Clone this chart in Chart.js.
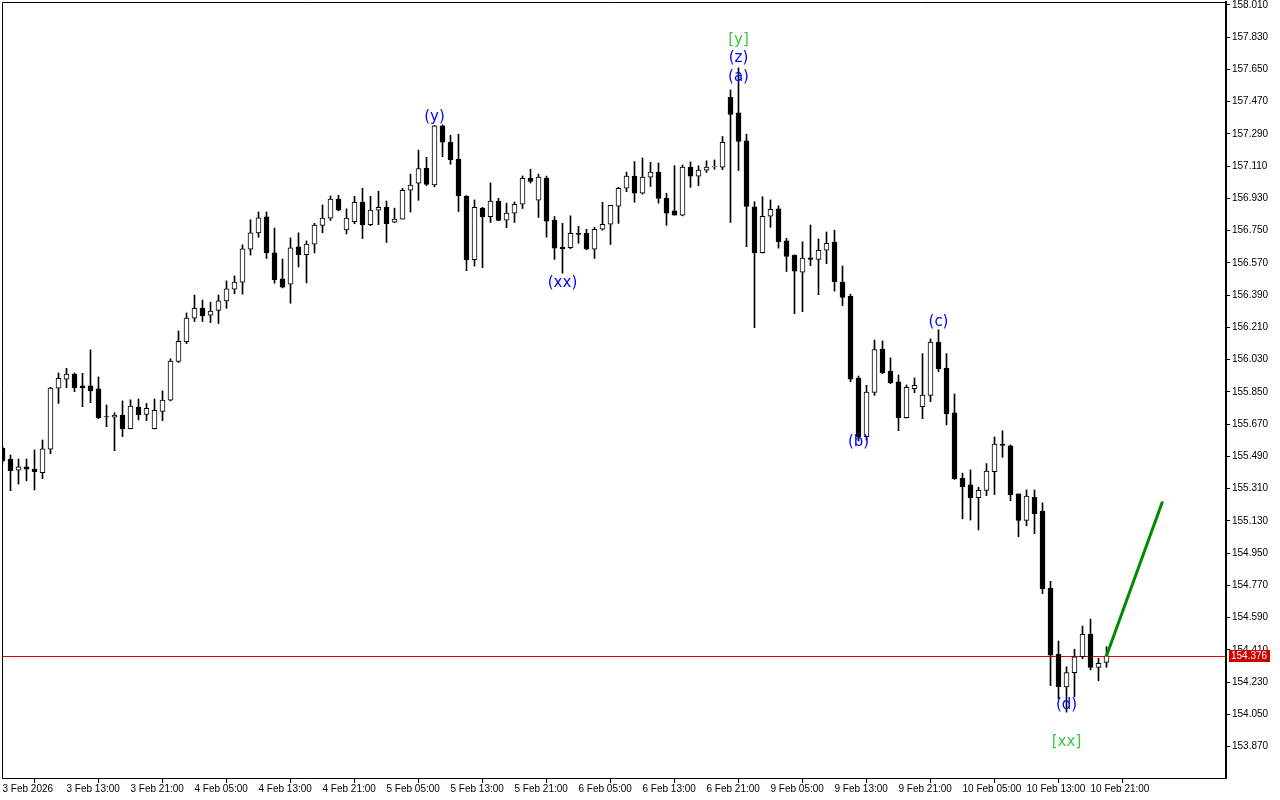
<!DOCTYPE html>
<html>
<head>
<meta charset="utf-8">
<script src="https://cdn.jsdelivr.net/npm/chart.js@4.4.1/dist/chart.umd.min.js"></script>
<style>
  body { margin: 0; background: #fff; }
  canvas { display: block; }
</style>
</head>
<body>
<canvas id="chart" width="1280" height="800"></canvas>
<script>
// H1 candles, 3 Feb 05:00 .. 10 Feb 23:00
const opens = [
155.534,155.475,155.412,155.431,155.419,155.399,155.529,155.870,155.920,155.949,
155.883,155.883,155.866,155.712,155.708,155.720,155.644,155.765,155.724,155.644,
155.741,155.803,156.019,156.130,156.261,156.316,156.277,156.304,156.357,156.423,
156.462,156.646,156.737,156.826,156.625,156.480,156.451,156.659,156.616,156.674,
156.778,156.819,156.925,156.753,156.800,156.908,156.783,156.864,156.880,156.797,
156.814,156.975,157.015,157.098,157.005,157.334,157.243,157.148,156.941,156.587,
156.876,156.828,156.915,156.808,156.847,156.897,157.042,156.919,157.042,156.808,
156.657,156.655,156.735,156.735,156.646,156.757,156.785,156.886,156.986,157.054,
156.958,157.048,157.076,156.930,156.860,156.836,157.104,157.054,157.087,157.104,
157.104,157.494,157.407,157.251,156.882,156.627,156.830,156.871,156.692,156.613,
156.517,156.598,156.589,156.640,156.685,156.463,156.383,155.925,155.600,155.846,
156.089,155.966,155.905,155.705,155.868,155.767,155.829,156.128,155.983,155.732,
155.367,155.330,155.259,155.300,155.404,155.558,155.549,155.280,155.132,155.261,
155.184,154.753,154.384,154.202,154.282,154.371,154.496,154.312,154.340
];
const highs = [
155.547,155.497,155.475,155.475,155.525,155.581,155.875,155.955,155.981,155.955,
155.953,156.084,155.933,155.776,155.733,155.799,155.805,155.810,155.785,155.810,
155.855,156.034,156.189,156.290,156.390,156.362,156.350,156.390,156.469,156.497,
156.670,156.810,156.854,156.854,156.764,156.591,156.709,156.737,156.692,156.790,
156.893,156.943,156.947,156.871,156.941,156.986,156.941,156.969,156.915,156.875,
156.986,157.065,157.199,157.159,157.337,157.340,157.282,157.288,156.945,156.921,
156.880,157.016,156.930,156.903,156.910,157.055,157.092,157.065,157.054,156.828,
156.790,156.832,156.774,156.757,156.768,156.908,156.891,156.991,157.076,157.135,
157.155,157.131,157.127,156.958,157.112,157.116,157.133,157.111,157.139,157.144,
157.275,157.535,157.658,157.288,156.911,156.939,156.921,156.888,156.707,156.614,
156.687,156.781,156.703,156.742,156.752,156.552,156.395,155.938,155.886,156.139,
156.134,156.039,155.944,155.888,155.927,156.063,156.145,156.196,156.063,155.838,
155.396,155.414,155.317,155.449,155.598,155.632,155.553,155.280,155.302,155.302,
155.230,154.792,154.459,154.315,154.413,154.542,154.581,154.363,154.427
];
const lows = [
155.453,155.298,155.335,155.353,155.302,155.365,155.504,155.785,155.873,155.851,
155.767,155.789,155.700,155.655,155.521,155.600,155.643,155.693,155.689,155.642,
155.689,155.799,156.013,156.119,156.242,156.242,156.236,156.231,156.316,156.397,
156.395,156.613,156.713,156.594,156.456,156.430,156.344,156.547,156.458,156.625,
156.738,156.806,156.860,156.731,156.788,156.705,156.777,156.783,156.683,156.794,
156.814,156.853,156.919,157.001,156.994,157.162,157.120,156.856,156.526,156.552,
156.543,156.795,156.804,156.766,156.795,156.873,157.015,156.823,156.713,156.589,
156.512,156.649,156.679,156.643,156.594,156.752,156.672,156.790,156.967,156.908,
156.953,156.996,156.903,156.779,156.836,156.832,156.991,157.000,157.074,157.092,
157.090,156.795,157.085,156.660,156.208,156.624,156.768,156.652,156.521,156.286,
156.297,156.554,156.392,156.565,156.412,156.331,155.906,155.575,155.581,155.830,
155.951,155.895,155.633,155.703,155.845,155.700,155.795,155.962,155.665,155.361,
155.141,155.134,155.079,155.270,155.276,155.484,155.242,155.041,155.102,155.058,
154.723,154.210,154.136,154.062,154.147,154.360,154.297,154.237,154.312
];
const closes = [
155.466,155.410,155.431,155.418,155.404,155.531,155.870,155.925,155.949,155.873,
155.873,155.855,155.705,155.709,155.720,155.644,155.770,155.722,155.758,155.747,
155.803,156.021,156.132,156.261,156.316,156.275,156.300,156.357,156.424,156.463,
156.648,156.737,156.821,156.627,156.476,156.434,156.653,156.616,156.674,156.781,
156.819,156.925,156.864,156.819,156.908,156.783,156.864,156.880,156.788,156.814,
156.975,157.004,157.096,157.007,157.334,157.243,157.146,156.945,156.587,156.880,
156.828,156.915,156.806,156.847,156.897,157.042,157.024,157.048,156.803,156.652,
156.649,156.735,156.729,156.646,156.757,156.785,156.891,156.986,157.054,156.958,
157.048,157.076,156.930,156.847,156.836,157.104,157.054,157.087,157.104,157.107,
157.243,157.398,157.247,156.884,156.627,156.830,156.869,156.688,156.605,156.523,
156.596,156.589,156.640,156.679,156.465,156.377,155.921,155.600,155.848,156.086,
155.956,155.901,155.705,155.875,155.886,155.831,156.128,155.977,155.728,155.363,
155.320,155.259,155.300,155.407,155.558,155.551,155.276,155.132,155.268,155.169,
154.750,154.380,154.204,154.282,154.371,154.496,154.312,154.334,154.376
];

// time axis: one label every 8 bars
const timeTickIdx = [0,8,16,24,32,40,48,56,64,72,80,88,96,104,112,120,128,136];
const timeTickLabels = ['3 Feb 2026','3 Feb 13:00','3 Feb 21:00','4 Feb 05:00','4 Feb 13:00',
  '4 Feb 21:00','5 Feb 05:00','5 Feb 13:00','5 Feb 21:00','6 Feb 05:00','6 Feb 13:00',
  '6 Feb 21:00','9 Feb 05:00','9 Feb 13:00','9 Feb 21:00','10 Feb 05:00','10 Feb 13:00','10 Feb 21:00'];

const priceTicks = [153.870,154.050,154.230,154.410,154.590,154.770,154.950,155.130,155.310,
  155.490,155.670,155.850,156.030,156.210,156.390,156.570,156.750,156.930,157.110,157.290,
  157.470,157.650,157.830,158.010];

const bidPrice = 154.376;

// wave count labels
const waveText  = ['[y]','(z)','(a)','(y)','(xx)','(b)','(c)','(d)','[xx]'];
const waveIdx   = [92, 92, 92, 54, 70, 107, 117, 133, 133];
const wavePrice = [157.814,157.711,157.608,157.384,156.458,155.569,156.237,154.101,153.892];
const waveColor = ['#3cc83c','#0000ff','#0000ff','#0000ff','#0000ff','#0000ff','#0000ff','#0000ff','#3cc83c'];

// projected move
const forecastIdx = [138, 145];
const forecastPrice = [154.376, 155.237];

const xMin = -0.0625, xMax = 152.9375;
const axisFont = { family: '"Liberation Sans", Arial, sans-serif', size: 10 };

const wicks = opens.map((o, i) => ({ x: i, y: [lows[i], highs[i]] }));
const bodies = opens.map((o, i) => ({ x: i, y: [o, closes[i]] }));
const bodyColors = opens.map((o, i) => closes[i] >= o ? '#ffffff' : '#000000');

const chartExtras = {
  id: 'chartExtras',
  beforeDraw(chart) {
    const c = chart.ctx;
    c.save();
    c.fillStyle = '#fff';
    c.fillRect(0, 0, chart.width, chart.height);
    c.restore();
  },
  beforeDatasetsDraw(chart) {
    // bid line
    const c = chart.ctx;
    const a = chart.chartArea;
    const y = Math.round(chart.scales.y.getPixelForValue(bidPrice)) + 0.5;
    c.save();
    c.strokeStyle = '#e00000';
    c.lineWidth = 1;
    c.beginPath();
    c.moveTo(a.left, y);
    c.lineTo(a.right, y);
    c.stroke();
    c.restore();
  },
  afterDatasetsDraw(chart) {
    const c = chart.ctx;
    const xs = chart.scales.x, ys = chart.scales.y;
    c.save();
    c.font = '15px "DejaVu Sans", sans-serif';
    c.textAlign = 'center';
    c.textBaseline = 'middle';
    waveText.forEach((t, i) => {
      c.fillStyle = waveColor[i];
      c.fillText(t, xs.getPixelForValue(waveIdx[i]), ys.getPixelForValue(wavePrice[i]));
    });
    c.restore();
  },
  afterDraw(chart) {
    const c = chart.ctx;
    const a = chart.chartArea;
    const ys = chart.scales.y;
    c.save();
    c.strokeStyle = '#000';
    c.lineWidth = 1;
    c.beginPath();
    c.moveTo(a.left + 0.5, a.bottom);
    c.lineTo(a.left + 0.5, a.top + 0.5);
    c.lineTo(a.right, a.top + 0.5);
    c.stroke();
    // current price box
    const y = Math.round(ys.getPixelForValue(bidPrice));
    c.fillStyle = '#cc0000';
    c.fillRect(a.right + 3, y - 6, 41, 12);
    c.fillStyle = '#fff';
    c.font = '10px ' + axisFont.family;
    c.textBaseline = 'middle';
    c.textAlign = 'left';
    c.fillText(bidPrice.toFixed(3), a.right + 5, y + 0.5);
    c.restore();
  }
};

new Chart(document.getElementById('chart'), {
  type: 'bar',
  data: {
    datasets: [
      {
        data: wicks,
        backgroundColor: '#000',
        barThickness: 1,
        grouped: false,
        order: 2
      },
      {
        data: bodies,
        backgroundColor: bodyColors,
        borderColor: '#000',
        borderWidth: 1,
        borderSkipped: false,
        barThickness: 5,
        grouped: false,
        order: 1
      },
      {
        type: 'line',
        data: forecastIdx.map((v, i) => ({ x: v, y: forecastPrice[i] })),
        borderColor: '#008a00',
        borderWidth: 3,
        pointRadius: 0,
        order: 0
      }
    ]
  },
  options: {
    responsive: false,
    animation: false,
    layout: { padding: { left: 2, top: 2, right: 0, bottom: 0 } },
    plugins: { legend: { display: false }, tooltip: { enabled: false } },
    scales: {
      x: {
        type: 'linear',
        min: xMin,
        max: xMax,
        offset: false,
        grid: { drawOnChartArea: false, drawTicks: true, tickLength: 5, color: '#000' },
        border: { color: '#000', width: 1 },
        ticks: {
          autoSkip: false,
          maxRotation: 0,
          align: 'start',
          padding: 0,
          color: '#000',
          font: axisFont,
          callback: (v) => timeTickLabels[timeTickIdx.indexOf(v)]
        },
        afterBuildTicks: (s) => { s.ticks = timeTickIdx.map(v => ({ value: v })); },
        afterFit: (s) => { s.height = 22; s.paddingLeft = 0; s.paddingRight = 0; }
      },
      y: {
        position: 'right',
        min: 153.6942,
        max: 158.0257,
        grid: { drawOnChartArea: false, drawTicks: true, tickLength: 4, color: '#000' },
        border: { color: '#000', width: 2 },
        ticks: {
          padding: 2,
          color: '#000',
          font: axisFont,
          callback: (v) => v.toFixed(3)
        },
        afterBuildTicks: (s) => { s.ticks = priceTicks.map(v => ({ value: v })); },
        afterFit: (s) => { s.width = 54; s.paddingTop = 0; s.paddingBottom = 0; }
      }
    }
  },
  plugins: [chartExtras]
});
</script>
</body>
</html>
